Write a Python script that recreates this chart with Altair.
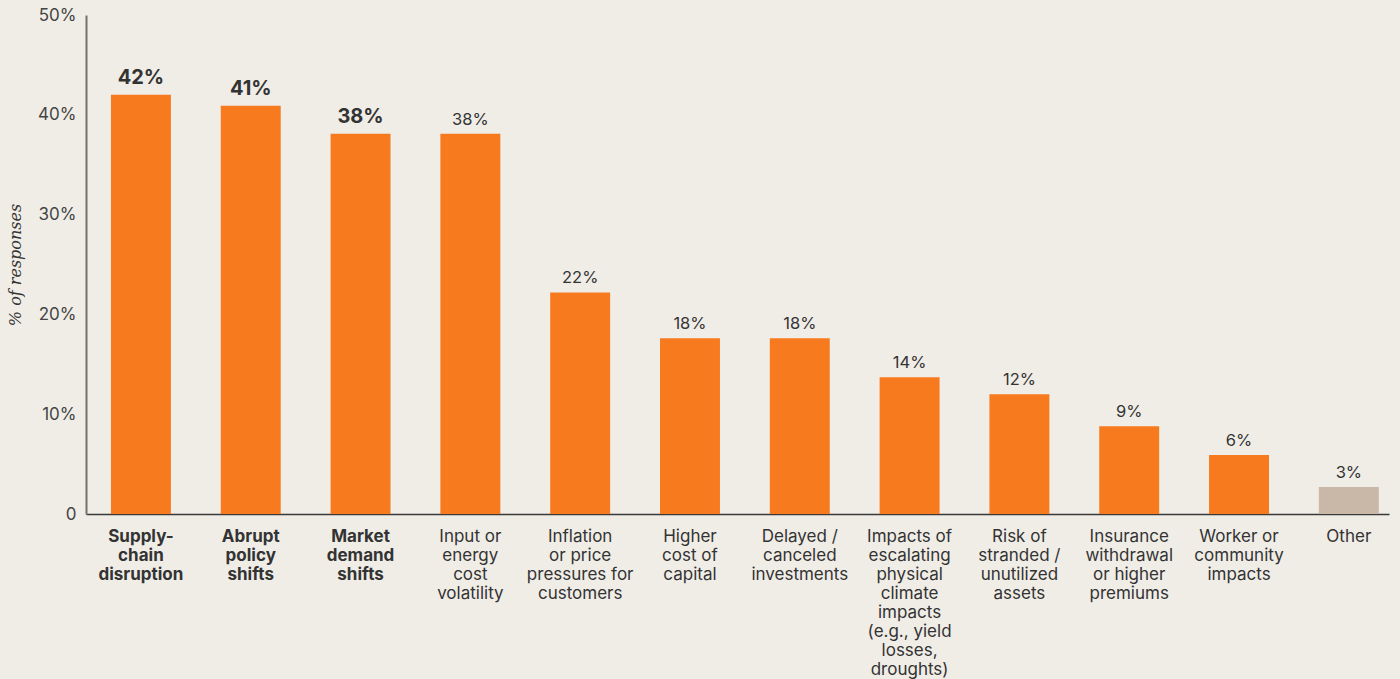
import altair as alt
import pandas as pd

categories = [
    "Supply-|chain|disruption",
    "Abrupt|policy|shifts",
    "Market|demand|shifts",
    "Input or|energy|cost|volatility",
    "Inflation|or price|pressures for|customers",
    "Higher|cost of|capital",
    "Delayed /|canceled|investments",
    "Impacts of|escalating|physical|climate|impacts|(e.g., yield|losses,|droughts)",
    "Risk of|stranded /|unutilized|assets",
    "Insurance|withdrawal|or higher|premiums",
    "Worker or|community|impacts",
    "Other",
]
values = [42.0, 40.9, 38.1, 38.1, 22.2, 17.6, 17.6, 13.7, 12.0, 8.8, 5.9, 2.7]
labels = ["42%", "41%", "38%", "38%", "22%", "18%", "18%", "14%", "12%", "9%", "6%", "3%"]
bold = [True, True, True] + [False] * 9

df = pd.DataFrame({"cat": categories, "val": values, "lab": labels, "bold": bold})

FONT = "Inter"
TXT = "#333333"
bold_list = "[" + ",".join("'" + c + "'" for c, b in zip(categories, bold) if b) + "]"

x = alt.X(
    "cat:N",
    sort=None,
    scale=alt.Scale(paddingInner=0.454, paddingOuter=0.16, align=0.71),
    axis=alt.Axis(
        title=None,
        labelAngle=0,
        labelExpr="split(datum.value, '|')",
        labelFont=FONT,
        labelFontSize=17,
        labelLineHeight=19,
        labelColor=TXT,
        labelLimit=0,
        labelPadding=14,
        labelBaseline="top",
        labelFontWeight={"condition": {"test": "indexof(" + bold_list + ", datum.value) >= 0", "value": "bold"}, "value": "normal"},
        ticks=False,
        domainColor="#3a3a3a",
        domainWidth=1.5,
    ),
)

y = alt.Y(
    "val:Q",
    scale=alt.Scale(domain=[0, 50]),
    axis=alt.Axis(
        title="% of responses",
        titleFont="DejaVu Serif",
        titleFontStyle="italic",
        titleFontWeight="normal",
        titleFontSize=16,
        titleColor=TXT,
        titlePadding=14,
        values=[0, 10, 20, 30, 40, 50],
        labelExpr="datum.value == 0 ? '0' : datum.value + '%'",
        labelFont=FONT,
        labelFontSize=17,
        labelColor="#444444",
        labelPadding=10,
        grid=False,
        ticks=False,
        domainColor="#77716b",
        domainWidth=2,
    ),
)

bars = alt.Chart(df).mark_bar().encode(
    x=x,
    y=y,
    color=alt.condition(alt.datum.cat == "Other", alt.value("#C9B7A7"), alt.value("#F77A1F")),
)

txt_bold = alt.Chart(df).transform_filter(alt.datum.bold).mark_text(
    font=FONT, fontSize=20, fontWeight="bold", color=TXT, baseline="bottom", dy=-7
).encode(x=alt.X("cat:N", sort=None), y="val:Q", text="lab:N")

txt_norm = alt.Chart(df).transform_filter(~alt.datum.bold).mark_text(
    font=FONT, fontSize=16.5, color=TXT, baseline="bottom", dy=-6
).encode(x=alt.X("cat:N", sort=None), y="val:Q", text="lab:N")

chart = alt.layer(bars, txt_bold, txt_norm).properties(
    width=1303,
    height=499,
    background="#F0EDE7",
    autosize=alt.AutoSizeParams(type="none"),
    padding={"left": 86, "top": 15, "right": 11, "bottom": 165},
).configure_view(stroke=None)

chart.save("out.html", embed_options={"renderer": "svg", "actions": False})
